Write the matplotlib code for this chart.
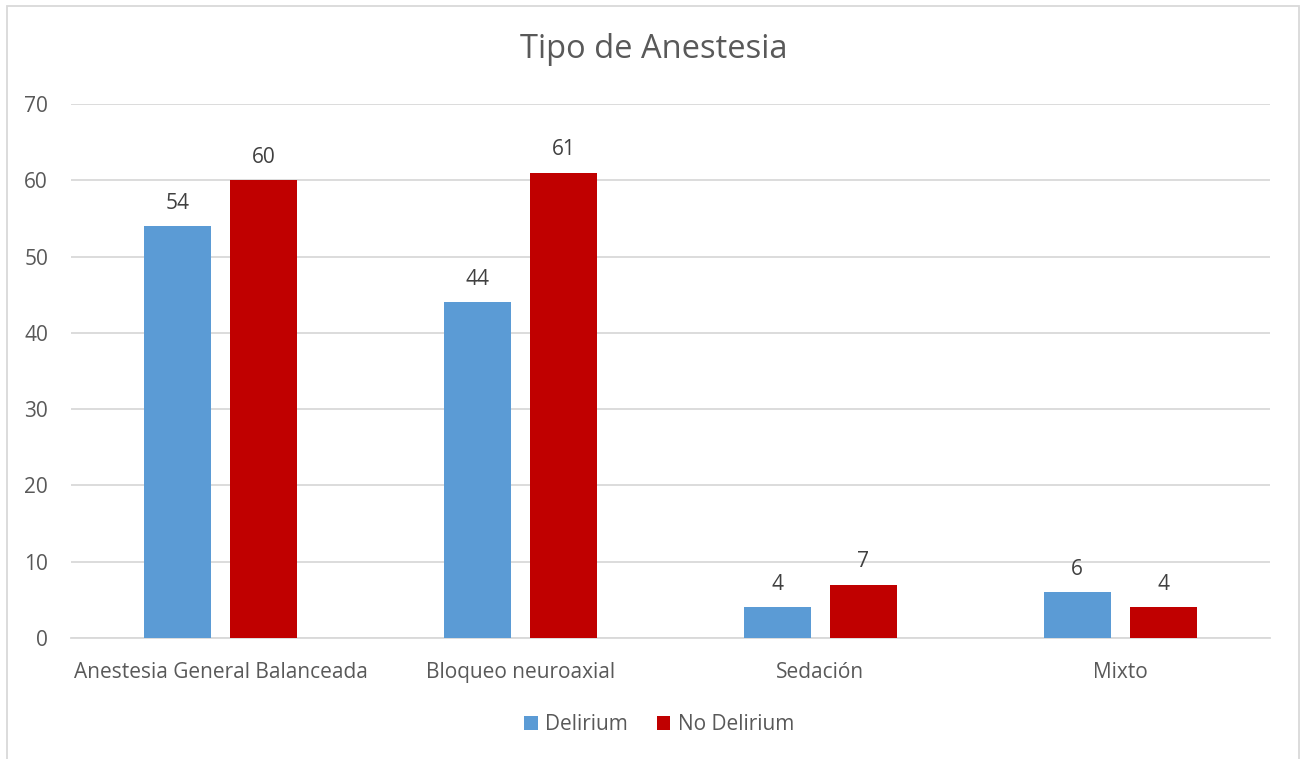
import matplotlib
matplotlib.use("Agg")
import matplotlib.pyplot as plt
import numpy as np
from matplotlib.patches import Rectangle

plt.rcParams['font.family'] = ['Open Sans', 'DejaVu Sans']

categories = ["Anestesia General Balanceada", "Bloqueo neuroaxial", "Sedación", "Mixto"]
delirium = [54, 44, 4, 6]
no_delirium = [60, 61, 7, 4]
series_names = ["Delirium", "No Delirium"]
colors = ["#5B9BD5", "#C00000"]

text_color = "#595959"
grid_color = "#D9D9D9"

fig = plt.figure(figsize=(13.08, 7.59), dpi=100)
ax = fig.add_axes([71/1308, 1-638/759, 1199/1308, 534/759])

x = np.arange(len(categories))
w = 0.2235
off = 0.1435
b1 = ax.bar(x - off, delirium, width=w, color=colors[0], label=series_names[0], zorder=3)
b2 = ax.bar(x + off, no_delirium, width=w, color=colors[1], label=series_names[1], zorder=3)

for bars, vals in ((b1, delirium), (b2, no_delirium)):
    for rect, v in zip(bars, vals):
        ax.annotate(str(v), (rect.get_x() + rect.get_width()/2, v),
                    xytext=(0, 16.5), textcoords="offset points",
                    ha="center", va="center", fontsize=15, color="#404040")

ax.set_xlim(-0.5, len(categories) - 0.5)
ax.set_ylim(0, 70)
ax.set_yticks(range(0, 71, 10))
ax.set_xticks(x)
ax.set_xticklabels(categories)
ax.tick_params(axis='both', length=0, labelsize=15, colors=text_color)
ax.tick_params(axis='y', pad=16.5)
ax.tick_params(axis='x', pad=17)
ax.yaxis.grid(True, color=grid_color, linewidth=1.3, zorder=0)
for s in ("top", "right", "left"):
    ax.spines[s].set_visible(False)
ax.spines["bottom"].set_color(grid_color)
ax.spines["bottom"].set_linewidth(1.3)

fig.text(0.5, 1-50/759, "Tipo de Anestesia", ha="center", va="center",
         fontsize=23.5, color=text_color)

leg = fig.legend(loc="center", bbox_to_anchor=(659/1308, 1-725/759), ncol=2,
                 frameon=False, fontsize=15, handlelength=0.65, handleheight=0.65,
                 columnspacing=1.4, handletextpad=0.35)
for t in leg.get_texts():
    t.set_color(text_color)

fig.patches.append(Rectangle((7/1308, -0.01), 1292/1308, 1.01 - 6/759,
                             transform=fig.transFigure, fill=False,
                             edgecolor=grid_color, linewidth=1.3))

fig.savefig("out.png", dpi=100)
